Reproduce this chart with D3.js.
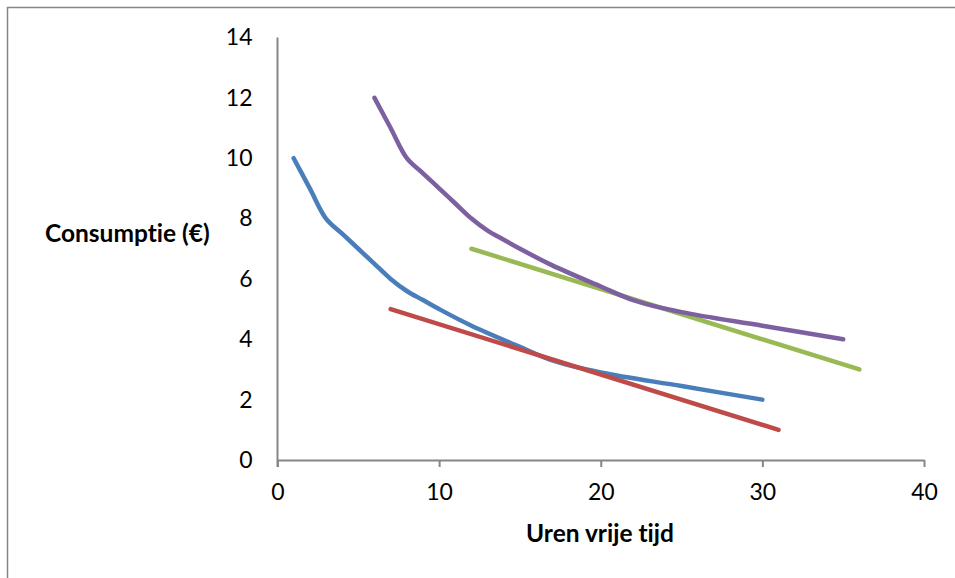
<!DOCTYPE html>
<html>
<head>
<meta charset="utf-8">
<script src="https://cdn.jsdelivr.net/npm/d3@7"></script>
<style>
  body { margin: 0; background: #fff; }
  svg text { font-family: Lato, "Open Sans", sans-serif; fill: #000; font-variant-ligatures: none; }
</style>
</head>
<body>
<div id="chart"></div>
<script>
// indifference curves and budget lines (uren vrije tijd, consumptie)
var blueX   = [1, 2, 3, 4, 5, 6, 7, 8, 9, 10, 12, 15, 17, 20, 25, 30];
var blueY   = [10, 9, 8, 7.5, 7, 6.5, 6, 5.6, 5.3, 5, 4.45, 3.75, 3.3, 2.9, 2.45, 2];
var redX    = [7, 31];
var redY    = [5, 1];
var greenX  = [12, 36];
var greenY  = [7, 3];
var purpleX = [6, 7, 8, 9, 10, 11, 12, 13, 14, 15, 17, 20, 22, 25, 30, 35];
var purpleY = [12, 11, 10, 9.5, 9, 8.5, 8, 7.6, 7.3, 7, 6.45, 5.75, 5.3, 4.9, 4.45, 4];

var xTicks = [0, 10, 20, 30, 40];
var yTicks = [0, 2, 4, 6, 8, 10, 12, 14];

var series = [
  {x: blueX,   y: blueY,   color: "#4a7ebb"},
  {x: redX,    y: redY,    color: "#be4b48"},
  {x: greenX,  y: greenY,  color: "#98b954"},
  {x: purpleX, y: purpleY, color: "#7d60a0"}
];

var width = 955, height = 578;
var svg = d3.select("#chart").append("svg")
    .attr("width", width)
    .attr("height", height);

// chart frame
svg.append("rect")
    .attr("x", 7.5).attr("y", 7.5)
    .attr("width", width).attr("height", height)
    .style("fill", "none")
    .style("stroke", "#868686")
    .style("stroke-width", 1.5);

var x = d3.scaleLinear().domain([0, 40]).range([277.5, 924]);
var y = d3.scaleLinear().domain([0, 14]).range([460, 37.5]);

// x axis
var gx = svg.append("g")
    .attr("transform", "translate(0," + y(0) + ")")
    .call(d3.axisBottom(x).tickValues(xTicks).tickSize(7).tickPadding(17).tickSizeOuter(0));
gx.select(".domain").style("stroke", "#868686").style("stroke-width", 2);
gx.selectAll(".tick line").style("stroke", "#868686").style("stroke-width", 2);
gx.selectAll(".tick text").style("font-size", "23px");

// y axis
var gy = svg.append("g")
    .attr("transform", "translate(" + x(0) + ",0)")
    .call(d3.axisLeft(y).tickValues(yTicks).tickSize(0).tickPadding(25).tickSizeOuter(0));
gy.select(".domain").style("stroke", "#868686").style("stroke-width", 2)
    .attr("d", "M0," + y(14) + "V" + (y(0) + 7));
gy.selectAll(".tick text").style("font-size", "23px");

// lines
var line = d3.line()
    .x(function(d){ return x(d[0]); })
    .y(function(d){ return y(d[1]); })
    .curve(d3.curveCatmullRom.alpha(0.5));

series.forEach(function(s){
  var pts = s.x.map(function(v, i){ return [v, s.y[i]]; });
  svg.append("path")
      .datum(pts)
      .attr("d", line)
      .style("fill", "none")
      .style("stroke", s.color)
      .style("stroke-width", 4.5)
      .style("stroke-linecap", "round")
      .style("stroke-linejoin", "round");
});

// axis titles
svg.append("text")
    .attr("x", 45).attr("y", 242)
    .style("font-size", "24.5px")
    .style("font-weight", "bold")
    .text("Consumptie (€)");

svg.append("text")
    .attr("x", 600).attr("y", 542)
    .attr("text-anchor", "middle")
    .style("font-size", "24.5px")
    .style("font-weight", "bold")
    .text("Uren vrije tijd");
</script>
</body>
</html>
